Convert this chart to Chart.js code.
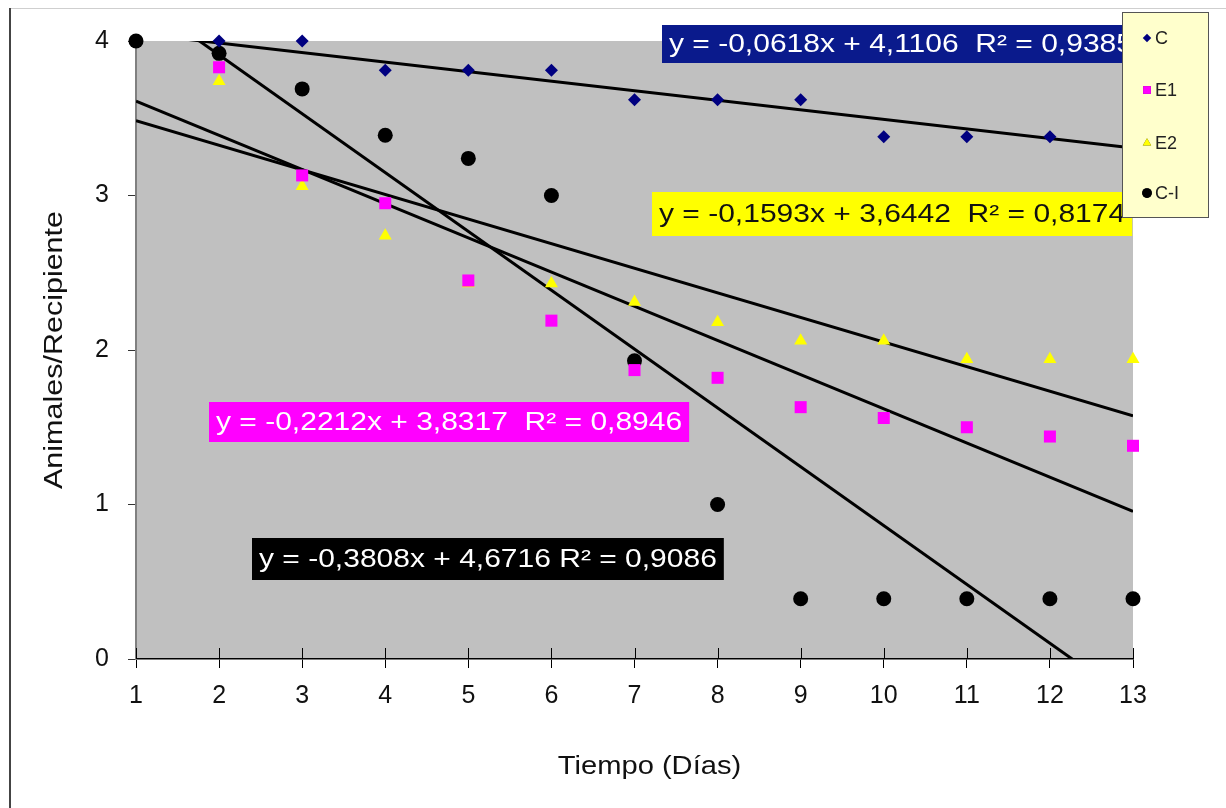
<!DOCTYPE html>
<html>
<head>
<meta charset="utf-8">
<script src="https://cdn.jsdelivr.net/npm/chart.js@4.4.1/dist/chart.umd.min.js"></script>
<style>
  html, body { margin: 0; padding: 0; background: #fff; }
  #wrap { width: 1226px; height: 808px; }
</style>
</head>
<body>
<div id="wrap"><canvas id="grafico" width="1226" height="808"></canvas></div>
<script>
// --- datos ---
const dias = [1, 2, 3, 4, 5, 6, 7, 8, 9, 10, 11, 12, 13];
const nombres = ['C', 'E1', 'E2', 'C-I'];
const valoresC  = [null, 4.00, 4.00, 3.81, 3.81, 3.81, 3.62, 3.62, 3.62, 3.38, 3.38, 3.38, null];
const valoresE1 = [null, 3.83, 3.13, 2.95, 2.45, 2.19, 1.87, 1.82, 1.63, 1.56, 1.50, 1.44, 1.38];
const valoresE2 = [null, 3.74, 3.06, 2.74, 2.43, 2.43, 2.31, 2.18, 2.06, 2.06, 1.94, 1.94, 1.94];
const valoresCI = [4.00, 3.92, 3.69, 3.39, 3.24, 3.00, 1.93, 1.00, 0.39, 0.39, 0.39, 0.39, 0.39];

// tendencias lineales (y = m x + b) y R²
const pendientes = [-0.0618, -0.2212, -0.1593, -0.3808];
const ordenadas  = [4.1106, 3.8317, 3.6442, 4.6716];
const r2         = [0.9385, 0.8946, 0.8174, 0.9086];

const tituloX = 'Tiempo (Días)';
const tituloY = 'Animales/Recipiente';

const FONT = '"Liberation Sans", Arial, sans-serif';

const series = [valoresC, valoresE1, valoresE2, valoresCI];
const estilos = [
    { pointStyle: 'rectRot', radius: 6.5, color: '#000080' },
    { pointStyle: 'rect',    radius: 8.5, color: '#FF00FF' },
    { pointStyle: 'triangle',radius: 7.5, color: '#FFFF00' },
    { pointStyle: 'circle',  radius: 7.5, color: '#000000' }
];

const toPoints = vals => dias.map((d, i) => ({ x: d, y: vals[i] })).filter(p => p.y !== null);
const coma = v => v.toFixed(4).replace('.', ',');

const datasets = [];
series.forEach((vals, i) => {
    datasets.push({
        type: 'scatter',
        label: nombres[i],
        data: toPoints(vals),
        pointStyle: estilos[i].pointStyle,
        pointRadius: estilos[i].radius,
        backgroundColor: estilos[i].color,
        borderColor: estilos[i].color,
        borderWidth: 0,
        clip: false,
        order: 0
    });
});
pendientes.forEach((m, i) => {
    const x0 = dias[0], x1 = dias[dias.length - 1];
    datasets.push({
        type: 'line',
        label: 'tend ' + nombres[i],
        data: [{ x: x0, y: m * x0 + ordenadas[i] }, { x: x1, y: m * x1 + ordenadas[i] }],
        borderColor: '#000',
        borderWidth: 3,
        pointRadius: 0,
        fill: false,
        order: 1
    });
});

// cajas de ecuaciones (posición en píxeles)
const cajas = [
    { serie: 0, left: 662, top: 25, h: 38, bg: '#0a1a8c', fg: '#fff', sep: '  ' },
    { serie: 2, left: 652, top: 192, h: 44, bg: '#ffff00', fg: '#111', sep: '  ' },
    { serie: 1, left: 209, top: 402, h: 40, bg: '#ff00ff', fg: '#fff', sep: '  ' },
    { serie: 3, left: 252, top: 538, h: 42, bg: '#000000', fg: '#fff', sep: ' ' }
];

// texto algo ensanchado, como en el original
function textoAncho(ctx, txt, x, y, sx) {
    ctx.save();
    ctx.translate(x, y);
    ctx.scale(sx, 1);
    ctx.fillText(txt, 0, 0);
    ctx.restore();
}

const fondoPlot = {
    id: 'fondoPlot',
    beforeDraw(chart) {
        const { ctx, chartArea: a } = chart;
        ctx.save();
        ctx.fillStyle = '#fff';
        ctx.fillRect(0, 0, chart.width, chart.height);
        // marco exterior
        ctx.strokeStyle = '#cfcfcf';
        ctx.lineWidth = 1;
        ctx.beginPath(); ctx.moveTo(10, 8.5); ctx.lineTo(chart.width, 8.5); ctx.stroke();
        ctx.strokeStyle = '#444';
        ctx.lineWidth = 2;
        ctx.beginPath(); ctx.moveTo(10, 8); ctx.lineTo(10, chart.height); ctx.stroke();
        ctx.fillStyle = '#c0c0c0';
        ctx.fillRect(a.left, a.top, a.right - a.left, a.bottom - a.top);
        ctx.restore();
    },
    afterDraw(chart) {
        const { ctx, chartArea: a } = chart;
        const xs = chart.scales.x;
        ctx.save();
        // marcas del eje X que cruzan el eje
        ctx.strokeStyle = '#000';
        ctx.lineWidth = 1;
        xs.ticks.forEach(t => {
            const px = Math.round(xs.getPixelForValue(t.value)) + 0.5;
            ctx.beginPath(); ctx.moveTo(px, a.bottom); ctx.lineTo(px, a.bottom - 11); ctx.stroke();
        });
        // títulos de ejes
        ctx.fillStyle = '#111';
        ctx.textAlign = 'center';
        ctx.textBaseline = 'middle';
        ctx.font = '26px ' + FONT;
        textoAncho(ctx, tituloX, (a.left + a.right) / 2 + 15, 767, 1.12);
        ctx.font = '25px ' + FONT;
        ctx.save();
        ctx.translate(55, (a.top + a.bottom) / 2);
        ctx.rotate(-Math.PI / 2);
        textoAncho(ctx, tituloY, 0, 0, 1.22);
        ctx.restore();
        ctx.restore();
    }
};

const etiquetas = {
    id: 'etiquetas',
    afterDraw(chart) {
        const ctx = chart.ctx;
        const sx = 1.2;
        ctx.save();
        ctx.font = '25px ' + FONT;
        ctx.textBaseline = 'middle';
        ctx.textAlign = 'left';
        cajas.forEach(c => {
            const i = c.serie;
            const txt = 'y = ' + coma(pendientes[i]) + 'x + ' + coma(ordenadas[i]) + c.sep + 'R² = ' + coma(r2[i]);
            const w = ctx.measureText(txt).width * sx + 14;
            ctx.fillStyle = c.bg;
            ctx.fillRect(c.left, c.top, w, c.h);
            ctx.fillStyle = c.fg;
            textoAncho(ctx, txt, c.left + 7, c.top + c.h / 2 + 1, sx);
        });
        ctx.restore();

        // leyenda
        const L = { left: 1122, top: 12, w: 86, h: 205 };
        ctx.save();
        ctx.fillStyle = '#ffffcc';
        ctx.fillRect(L.left, L.top, L.w, L.h);
        ctx.strokeStyle = '#555';
        ctx.lineWidth = 1;
        ctx.strokeRect(L.left + 0.5, L.top + 0.5, L.w, L.h);
        const ys = [38, 90, 143, 193];
        ctx.font = '18px ' + FONT;
        ctx.textBaseline = 'middle';
        nombres.forEach((n, i) => {
            Chart.helpers.drawPoint(ctx, {
                pointStyle: estilos[i].pointStyle,
                radius: estilos[i].radius * 0.65,
                borderWidth: 0
            }, 1147, ys[i]);
            ctx.fillStyle = estilos[i].color;
            ctx.fill();
            ctx.fillStyle = '#222';
            ctx.fillText(n, 1155, ys[i] + 1);
        });
        ctx.restore();
    }
};

new Chart(document.getElementById('grafico'), {
    data: { datasets },
    options: {
        responsive: false,
        animation: false,
        layout: { padding: { left: 0, right: 93, top: 41, bottom: 0 } },
        plugins: {
            legend: { display: false },
            tooltip: { enabled: false }
        },
        scales: {
            x: {
                type: 'linear',
                min: 1, max: 13,
                ticks: { stepSize: 1, color: '#111', padding: 13, font: { family: FONT, size: 25 } },
                grid: { drawOnChartArea: false, drawTicks: true, tickLength: 9, color: '#000' },
                border: { color: '#000', width: 1.5 },
                afterFit: s => { s.height = 149; }
            },
            y: {
                type: 'linear',
                min: 0, max: 4,
                ticks: { stepSize: 1, color: '#111', padding: 19, font: { family: FONT, size: 25 } },
                grid: { drawOnChartArea: false, drawTicks: true, tickLength: 8, color: '#333' },
                border: { color: '#808080', width: 2 },
                afterFit: s => { s.width = 136; }
            }
        }
    },
    plugins: [fondoPlot, etiquetas]
});
</script>
</body>
</html>
